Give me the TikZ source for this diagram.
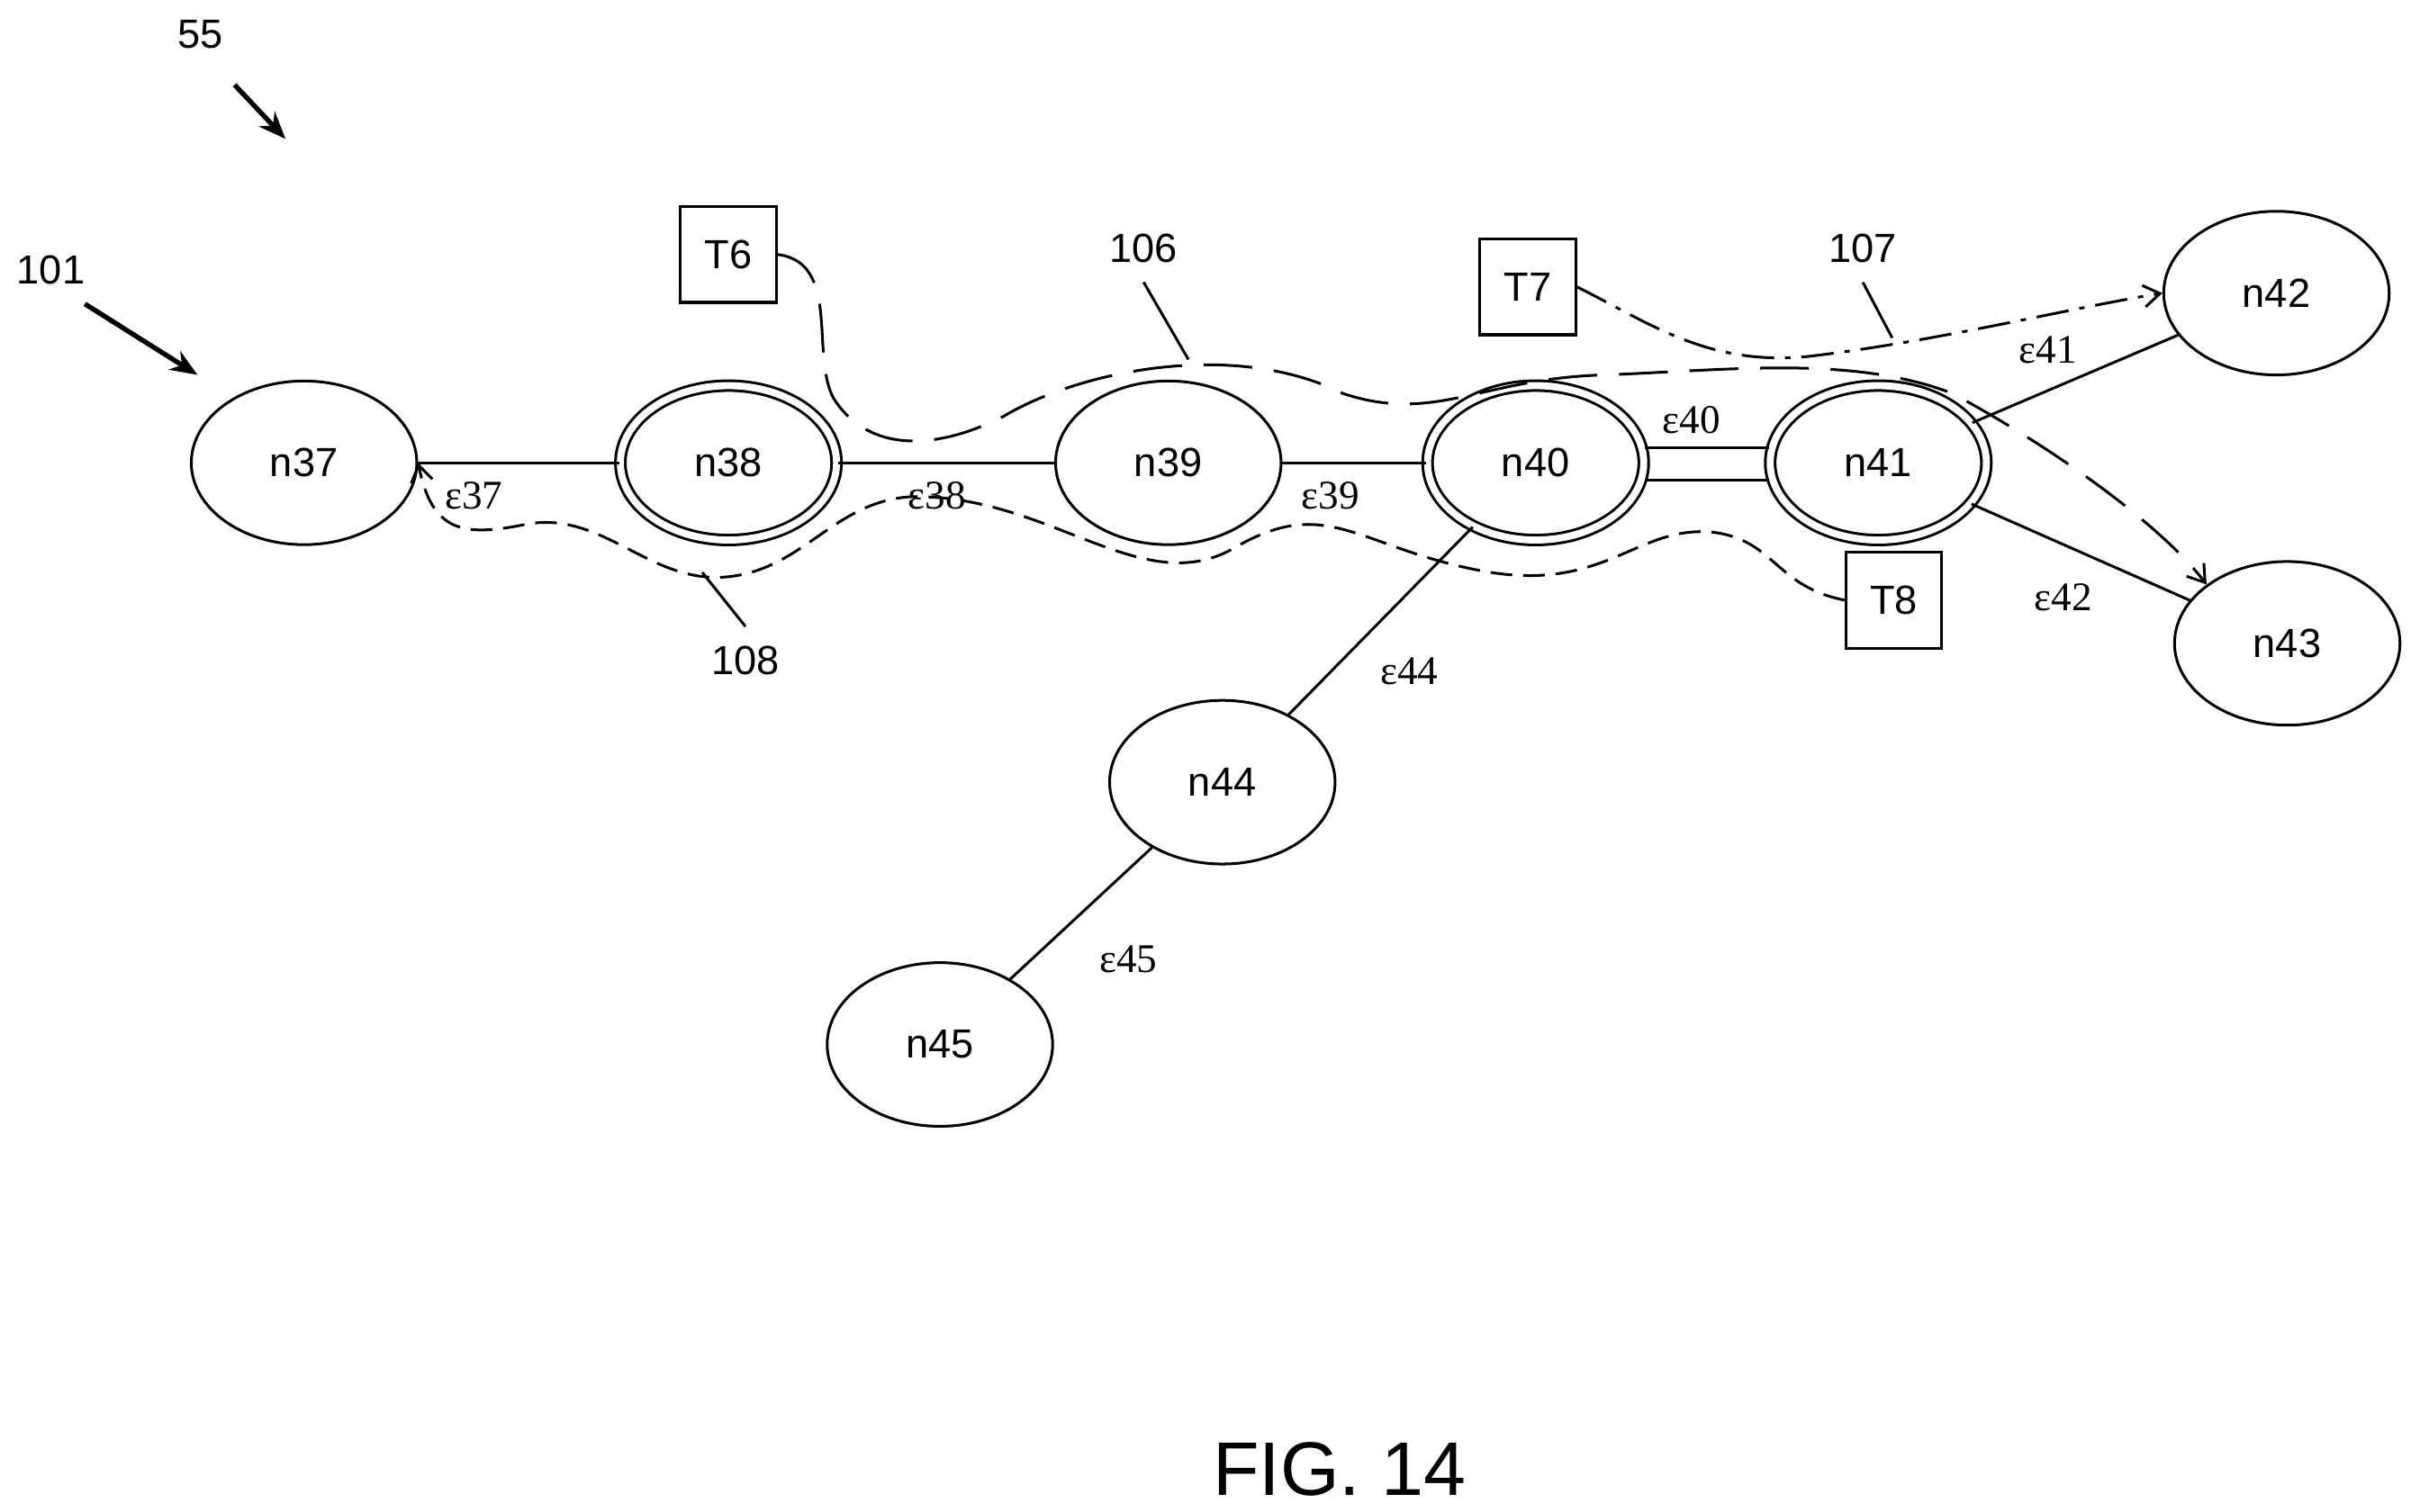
\documentclass[tikz,border=0pt]{standalone}
\usepackage{fontspec}
\setmainfont{Liberation Sans}
\newfontfamily\ser{Liberation Serif}
\usetikzlibrary{shapes.geometric,arrows.meta}
\begin{document}
\begin{tikzpicture}[x=0.01cm,y=-0.01cm,line width=0.5pt,
 nd/.style={ellipse,draw,minimum width=1.46cm,minimum height=1.06cm,inner sep=0pt,font=\fontsize{7.5}{9}\selectfont},
 dn/.style={nd,double,double distance=1.3pt},
 tb/.style={draw,minimum width=0.62cm,minimum height=0.62cm,inner sep=0pt,font=\fontsize{7.5}{9}\selectfont},
 lb/.style={font=\fontsize{7.5}{9}\selectfont},
 el/.style={font=\ser\fontsize{7.5}{9}\selectfont},
 ar/.style={-{Stealth[length=5pt,width=4pt]},line width=0.9pt},
 op/.style={-{Straight Barb[length=3pt,width=4pt]}}]
\useasboundingbox (0,0) rectangle (1568,980);
\node[nd] (n37) at (197,300) {n37};
\node[dn,minimum width=1.4cm,minimum height=1.0cm] (n38) at (472,300) {n38};
\node[nd] (n39) at (757,300) {n39};
\node[dn,minimum width=1.4cm,minimum height=1.0cm] (n40) at (995,300) {n40};
\node[dn,minimum width=1.4cm,minimum height=1.0cm] (n41) at (1217,300) {n41};
\node[nd] (n42) at (1475,190) {n42};
\node[nd] (n43) at (1482,417) {n43};
\node[nd] (n44) at (792,507) {n44};
\node[nd] (n45) at (609,677) {n45};
\node[tb] (T6) at (472,165) {T6};
\node[tb] (T7) at (990,186) {T7};
\node[tb] (T8) at (1227,389) {T8};
\node[lb] (l55) at (130,22) {55};
\node[lb] (l101) at (33,175) {101};
\node[lb] (l106) at (741,161) {106};
\node[lb] (l107) at (1207,161) {107};
\node[lb] (l108) at (483,428) {108};
\node[el] at (307,321) {ε37};
\node[el] at (607,321) {ε38};
\node[el] at (862,321) {ε39};
\node[el] at (1096,272) {ε40};
\node[el] at (1327,227) {ε41};
\node[el] at (1337,387) {ε42};
\node[el] at (913,435) {ε44};
\node[el] at (731,622) {ε45};
\node[font=\fontsize{14}{16}\selectfont] (fig) at (868,952) {FIG. 14};
\coordinate (a55s) at (152,55); \coordinate (a55e) at (185,90);
\coordinate (a101s) at (55,197); \coordinate (a101e) at (128,243);
\draw[ar] (a55s) -- (a55e);
\draw[ar] (a101s) -- (a101e);
\draw (n37) -- (n38); \draw (n38) -- (n39); \draw (n39) -- (n40);
\draw ([yshift=0.1cm]n40.east) -- ([yshift=0.1cm]n41.west);
\draw ([yshift=-0.11cm]n40.east) -- ([yshift=-0.11cm]n41.west);
\draw (n44) -- (n40); \draw (n45) -- (n44);
\draw (n41) -- (n42); \draw (n41) -- (n43);
% 106
\draw[dash pattern=on 9pt off 4pt,op] (T6.east) .. controls (545,170) and (525,230) .. (540,258)
 .. controls (560,290) and (600,295) .. (650,270)
 .. controls (700,240) and (800,220) .. (870,255)
 .. controls (930,275) and (960,245) .. (1040,243)
 .. controls (1120,240) and (1200,230) .. (1265,255)
 .. controls (1330,290) and (1400,340) .. (n43.north west);
% 107
\draw[dash pattern=on 6pt off 2pt on 1pt off 2pt,op] (T7.east) .. controls (1070,210) and (1110,240) .. (1180,230)
 .. controls (1260,220) and (1340,200) .. (n42.west);
% 108
\draw[dash pattern=on 4pt off 2pt,op] (T8.west) .. controls (1150,380) and (1150,350) .. (1110,345)
 .. controls (1060,340) and (1040,385) .. (960,370)
 .. controls (880,355) and (860,320) .. (800,355)
 .. controls (740,390) and (680,320) .. (590,322)
 .. controls (540,325) and (520,370) .. (470,374)
 .. controls (420,378) and (390,330) .. (340,340)
 .. controls (300,348) and (280,345) .. (n37.east);
% leaders
\draw (l106.south) -- (770,233);
\draw (l107.south) -- (1226,219);
\draw (l108.north) -- (455,371);
\end{tikzpicture}
\end{document}
